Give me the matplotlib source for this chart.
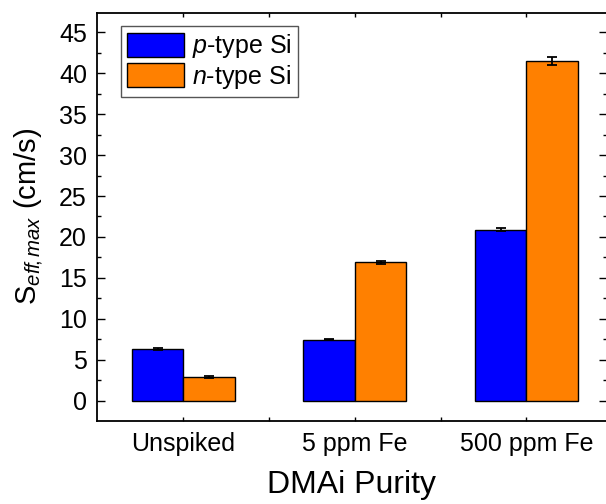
import numpy as np
import matplotlib
matplotlib.use("Agg")
import matplotlib.pyplot as plt
from matplotlib.ticker import MultipleLocator, FixedLocator

# data
categories = ["Unspiked", "5 ppm Fe", "500 ppm Fe"]
p_type = [6.3, 7.45, 20.9]
p_err = [0.1, 0.1, 0.2]
n_type = [2.9, 16.9, 41.5]
n_err = [0.1, 0.2, 0.45]

plt.rcParams['font.family'] = ['Liberation Sans', 'DejaVu Sans']
plt.rcParams['mathtext.fontset'] = 'custom'
plt.rcParams['mathtext.rm'] = 'Liberation Sans'
plt.rcParams['mathtext.it'] = 'Liberation Sans:italic'


def main():
    fig = plt.figure(figsize=(6.06, 5.04), dpi=100)
    left, bottom = 96.7 / 606, (504 - 420.7) / 504
    width, height = (607 - 96.7) / 606, (420.7 - 12.7) / 504
    ax = fig.add_axes([left, bottom, width, height])

    x = np.arange(len(categories))
    bw = 0.3
    err_kw = dict(ecolor='black', elinewidth=1.3, capsize=3.6, capthick=1.3)
    ax.bar(x - bw / 2, p_type, bw, yerr=p_err, color='#0000FF',
           edgecolor='black', linewidth=1.0, label=r'$\it{p}$-type Si',
           error_kw=err_kw, zorder=2)
    ax.bar(x + bw / 2, n_type, bw, yerr=n_err, color='#FF8000',
           edgecolor='black', linewidth=1.0, label=r'$\it{n}$-type Si',
           error_kw=err_kw, zorder=2)

    ax.set_xlim(-0.505, 2.47)
    ax.set_ylim(-2.45, 47.4)
    ax.set_xticks(x)
    ax.set_xticklabels(categories)
    ax.xaxis.set_minor_locator(FixedLocator([0.5, 1.5]))
    ax.yaxis.set_major_locator(MultipleLocator(5))
    ax.yaxis.set_minor_locator(MultipleLocator(2.5))

    ax.tick_params(which='both', direction='in', top=True, right=True,
                   width=1.0, labelsize=18)
    ax.tick_params(axis='y', which='major', length=5.5, pad=7)
    ax.tick_params(axis='y', which='minor', length=3)
    ax.tick_params(axis='x', which='both', length=3, pad=8)
    for s in ax.spines.values():
        s.set_linewidth(1.3)

    ax.set_xlabel('DMAi Purity', fontsize=23, labelpad=10)
    ax.set_ylabel(r'S$_{eff\!,max}$ (cm/s)', fontsize=21, labelpad=10)

    leg = ax.legend(loc='upper left', bbox_to_anchor=(0.048, 0.967),
                    borderaxespad=0, fontsize=18, fancybox=False,
                    edgecolor='#555555', framealpha=1, borderpad=0.25,
                    handlelength=2.25, handleheight=1.1, handletextpad=0.35,
                    labelspacing=0.1)
    leg.get_frame().set_linewidth(1.0)

    fig.savefig('out.png', dpi=100)
    plt.close(fig)


if __name__ == "__main__":
    main()
